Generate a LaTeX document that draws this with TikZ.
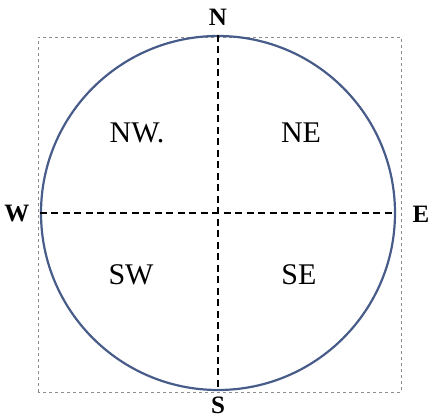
\documentclass[tikz,border=0pt]{standalone}
\usepackage{fontspec}
\setmainfont{Liberation Serif}
\usetikzlibrary{positioning, calc}
\definecolor{ringblue}{RGB}{72,92,138}
\definecolor{framegray}{RGB}{140,140,140}

\begin{document}
\begin{tikzpicture}[
  x=1pt, y=1pt,
  frame/.style={draw=framegray, dashed, line width=0.8pt},
  ring/.style={draw=ringblue, line width=2.2pt},
  axis/.style={draw=black, line width=1.4pt, dash pattern=on 7pt off 4.5pt},
  pole/.style={font=\fontsize{25}{27}\selectfont\bfseries, inner sep=0pt},
  quad/.style={font=\fontsize{30}{32}\selectfont, inner sep=0pt},
]
\useasboundingbox (0,0) rectangle (431,418);

% frame and circle
\draw[frame] (38,26) rectangle (401,381);
\node[ring, circle, minimum size=354pt, inner sep=0pt] (ring) at (218,205) {};

% axes
\draw[axis] (ring.north) -- (ring.south);
\draw[axis] (ring.west)  -- (ring.east);

% poles
\node[pole] (n) at (218,401) {N};
\node[pole] (s) at (218,13)  {S};
\node[pole] (w) at (17,204)  {W};
\node[pole] (e) at (421,204) {E};

% quadrants
\node[quad] (nw) at (137,285) {NW.};
\node[quad] (ne) at (301,285) {NE};
\node[quad] (sw) at (131,143) {SW};
\node[quad] (se) at (299,143) {SE};

\end{tikzpicture}
\end{document}
